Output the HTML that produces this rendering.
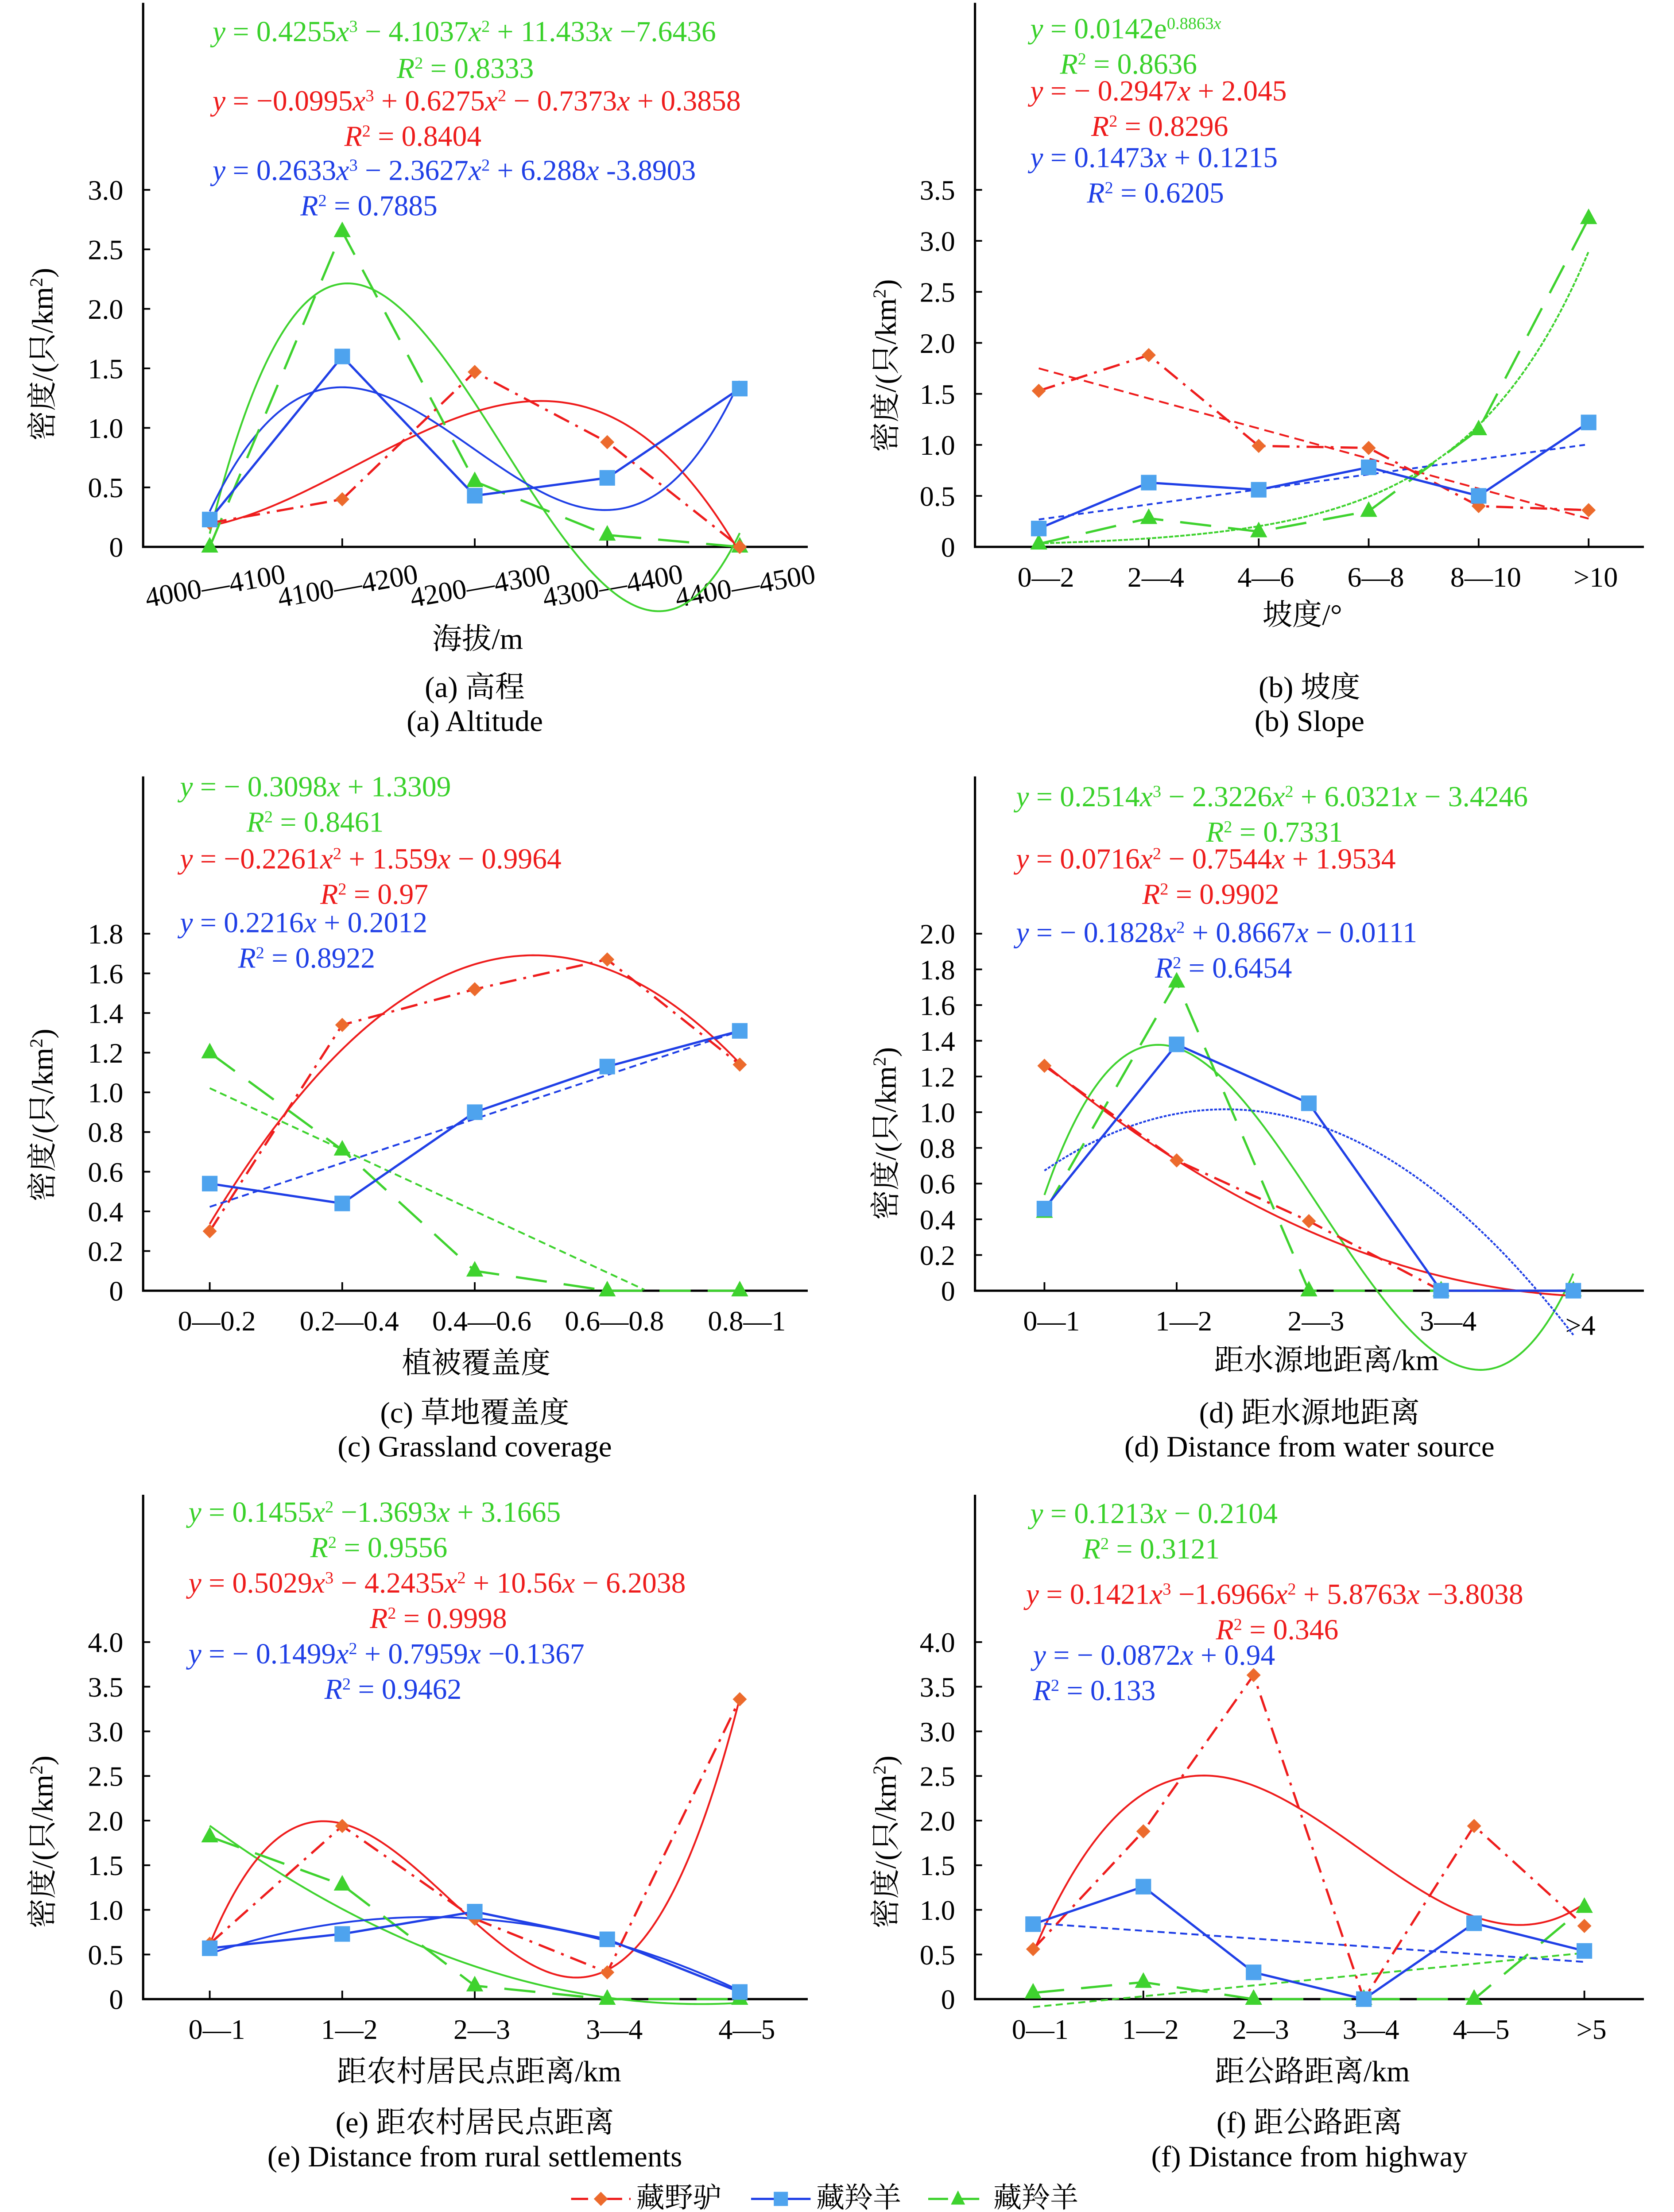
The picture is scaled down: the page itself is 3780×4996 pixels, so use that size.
<!DOCTYPE html>
<html><head><meta charset="utf-8">
<style>
html,body{margin:0;padding:0;background:#fff;}
svg{display:block;}
text{font-family:"Liberation Serif","Noto Serif CJK SC","Noto Sans CJK SC",serif;}
</style></head>
<body>
<svg id="fig" xmlns="http://www.w3.org/2000/svg" width="3780" height="4996" viewBox="0 0 1181.25 1561.25"></svg>
<script>
// ---- data ----
const aCats = ["4000—4100","4100—4200","4200—4300","4300—4400","4400—4500"];
const aDonkey = [0.2,0.4,1.47,0.88,0.0];
const aAntelope = [0.23,1.6,0.43,0.58,1.33];
const aGazelle = [0.0,2.65,0.55,0.1,0.0];
const aDonkeyFit = [-0.0995,0.6275,-0.7373,0.3858];
const aAntelopeFit = [0.2633,-2.3627,6.288,-3.8903];
const aGazelleFit = [0.4255,-4.1037,11.433,-7.6436];
const aTicks = ["0","0.5","1.0","1.5","2.0","2.5","3.0"];

const bCats = ["0—2","2—4","4—6","6—8","8—10",">10"];
const bDonkey = [1.53,1.88,0.99,0.97,0.4,0.36];
const bAntelope = [0.18,0.63,0.56,0.78,0.5,1.22];
const bGazelle = [0.03,0.28,0.15,0.35,1.15,3.22];
const bDonkeyFit = [-0.2947,2.045];
const bAntelopeFit = [0.1473,0.1215];
const bGazelleExp = [0.0142,0.8863];
const bTicks = ["0","0.5","1.0","1.5","2.0","2.5","3.0","3.5"];

const cCats = ["0—0.2","0.2—0.4","0.4—0.6","0.6—0.8","0.8—1"];
const cDonkey = [0.3,1.34,1.52,1.67,1.14];
const cAntelope = [0.54,0.44,0.9,1.13,1.31];
const cGazelle = [1.2,0.71,0.1,0,0];
const cDonkeyFit = [-0.2261,1.559,-0.9964];
const cAntelopeFit = [0.2216,0.2012];
const cGazelleFit = [-0.3098,1.3309];
const cTicks = ["0","0.2","0.4","0.6","0.8","1.0","1.2","1.4","1.6","1.8"];

const dCats = ["0—1","1—2","2—3","3—4",">4"];
const dDonkey = [1.26,0.73,0.39,0.0,0.0];
const dAntelope = [0.46,1.38,1.05,0.0,0.0];
const dGazelle = [0.44,1.73,0.0,0.0,0.0];
const dDonkeyFit = [0.0716,-0.7544,1.9534];
const dAntelopeFit = [-0.1828,0.8667,-0.0111];
const dGazelleFit = [0.2514,-2.3226,6.0321,-3.4246];
const dTicks = ["0","0.2","0.4","0.6","0.8","1.0","1.2","1.4","1.6","1.8","2.0"];

const eCats = ["0—1","1—2","2—3","3—4","4—5"];
const eDonkey = [0.62,1.94,0.9,0.3,3.36];
const eAntelope = [0.57,0.73,0.98,0.67,0.08];
const eGazelle = [1.82,1.28,0.15,0,0];
const eDonkeyFit = [0.5029,-4.2435,10.56,-6.2038];
const eAntelopeFit = [-0.1499,0.7959,-0.1367];
const eGazelleFit = [0.1455,-1.3693,3.1665];
const eTicks = ["0","0.5","1.0","1.5","2.0","2.5","3.0","3.5","4.0"];

const fCats = ["0—1","1—2","2—3","3—4","4—5",">5"];
const fDonkey = [0.56,1.88,3.63,0.0,1.94,0.82];
const fAntelope = [0.84,1.26,0.3,0.0,0.85,0.54];
const fGazelle = [0.07,0.19,0,0,0,1.03];
const fDonkeyFit = [0.1421,-1.6966,5.8763,-3.8038];
const fAntelopeFit = [-0.0872,0.94];
const fGazelleFit = [0.1213,-0.2104];
const fTicks = ["0","0.5","1.0","1.5","2.0","2.5","3.0","3.5","4.0"];

const RED="#ee1c1c", ORANGE="#ec6a2c", BLUE="#1f3fe6", LBLUE="#4ea3ee", GREEN="#3ed22e", GTXT="#39d12a";
const NS="http://www.w3.org/2000/svg";
const svg=document.getElementById('fig');
function mk(tag,attrs,parent){const e=document.createElementNS(NS,tag);for(const k in attrs)e.setAttribute(k,attrs[k]);(parent||svg).appendChild(e);return e;}
function txt(s,x,y,size,fill,anchor,parent){const t=mk('text',{x:x,y:y,'font-size':size,fill:fill||'#000','text-anchor':anchor||'middle'},parent);t.textContent=s;return t;}
function poly(c){return x=>c.reduce((a,v)=>a*x+v,0);}

function panel(id,cfg){
  const g=mk('g',{});
  
  
  const X=i=>cfg.x0+i*cfg.step;
  const Xc=x=>cfg.x0+(x-1)*cfg.step;
  const Y=v=>cfg.base-v*cfg.unit;
  const ax=mk('path',{d:`M${cfg.ax} ${cfg.top} V${cfg.base} H${cfg.axEnd}`,stroke:'#000','stroke-width':1.6,fill:'none'},g);
  
  
  cfg.ticks.forEach((t,i)=>{
    const v=i*cfg.tstep, y=Y(v);
    mk('line',{x1:cfg.ax,x2:cfg.ax+5,y1:y,y2:y,stroke:'#000','stroke-width':1.2},g);
    const tl=txt(t,cfg.ax-14,y+7,20,'#000','end',g);
    
    
  });
  cfg.cats.forEach((c,i)=>{
    const x=X(i);
    mk('line',{x1:x,x2:x,y1:cfg.base,y2:cfg.base-6,stroke:'#000','stroke-width':1.2},g);
    let t;
    if(cfg.rot){t=txt(c,x+5,cfg.base+34,20,'#000','middle',g);t.setAttribute('transform',`rotate(-10 ${x+5} ${cfg.base+34})`);}
    else {const dy=(c===">4")?31:28; t=txt(c,x+5,cfg.base+dy,20,'#000','middle',g);}
    
    
  });
  cfg.fits.forEach(f=>{
    const fn=f.exp?(x=>f.c[0]*Math.exp(f.c[1]*x)):poly(f.c);
    let d='';const n=cfg.cats.length;let started=false;
    for(let k=0;k<=200;k++){const x=1+(n-1)*k/200;const v=fn(x);
      if(f.clamp&&v<0)break;
      d+=(started?'L':'M')+Xc(x).toFixed(2)+' '+Y(v).toFixed(2);started=true;}
    const p=mk('path',{d:d,stroke:f.col,'stroke-width':1.3,fill:'none','stroke-dasharray':f.dash||'none'},g);
    
    
  });
  const series=[
    {v:cfg.gazelle,col:GREEN,dash:'22,12',m:'tri',name:'gazelle-line'},
    {v:cfg.donkey,col:RED,dash:'12,5,2,5',m:'dia',name:'donkey-line'},
    {v:cfg.antelope,col:BLUE,dash:'none',m:'sq',name:'antelope-line'}];
  series.forEach(s=>{
    const d=s.v.map((v,i)=>(i?'L':'M')+X(i)+' '+Y(v)).join('');
    const p=mk('path',{d:d,stroke:s.col,'stroke-width':1.6,fill:'none','stroke-dasharray':s.dash},g);
    
    
    s.v.forEach((v,i)=>{
      const x=X(i),y=Y(v);let m;
      if(s.m==='sq')m=mk('rect',{x:x-5.5,y:y-5.5,width:11,height:11,fill:LBLUE},g);
      else if(s.m==='dia')m=mk('path',{d:`M${x} ${y-5}L${x+5} ${y}L${x} ${y+5}L${x-5} ${y}Z`,fill:ORANGE},g);
      else m=mk('path',{d:`M${x} ${y-7}L${x+6} ${y+4}L${x-6} ${y+4}Z`,fill:GREEN},g);
      
      
    });
  });
  cfg.eqs.forEach(e=>{
    const t=mk('text',{x:e[1],y:e[2]+5,'font-size':20.5,fill:e[0],'text-anchor':'start'},g);
    t.innerHTML=e[3];
    
    
  });
  const yl=txt('',cfg.ylx,cfg.yly,21,'#000','middle',g);
  yl.innerHTML='密度/(只/km<tspan baseline-shift="super" font-size="13">2</tspan>)';
  yl.setAttribute('transform',`rotate(-90 ${cfg.ylx} ${cfg.yly})`);
  
  
  const xl=txt(cfg.xlabel,cfg.xlx,cfg.xly-5,21,'#000','middle',g);
  
  
  const t1=txt(cfg.title1,cfg.tx,cfg.ty-3,21,'#000','middle',g);
  
  
  const t2=txt(cfg.title2,cfg.tx,cfg.ty+21,21,'#000','middle',g);
  
  
}
const I=s=>`<tspan font-style="italic">${s}</tspan>`;
const SUP=s=>`<tspan baseline-shift="super" font-size="12">${s}</tspan>`;
const R2=v=>`${I('R')}${SUP('2')} = ${v}`;

panel('altitude',{ax:101,axEnd:570,top:2,base:386,unit:84,tstep:0.5,x0:148,step:93.5,rot:true,
  cats:aCats,ticks:aTicks,donkey:aDonkey,antelope:aAntelope,gazelle:aGazelle,
  fits:[{c:aGazelleFit,col:GREEN,name:'gazelle-trend'},{c:aDonkeyFit,col:RED,name:'donkey-trend'},{c:aAntelopeFit,col:BLUE,name:'antelope-trend'}],
  eqs:[[GTXT,150,24,`${I('y')} = 0.4255${I('x')}${SUP('3')} − 4.1037${I('x')}${SUP('2')} + 11.433${I('x')} −7.6436`],[GTXT,280,50,R2('0.8333')],
       [RED,150,73,`${I('y')} = −0.0995${I('x')}${SUP('3')} + 0.6275${I('x')}${SUP('2')} − 0.7373${I('x')} + 0.3858`],[RED,243,98,R2('0.8404')],
       [BLUE,150,122,`${I('y')} = 0.2633${I('x')}${SUP('3')} − 2.3627${I('x')}${SUP('2')} + 6.288${I('x')} -3.8903`],[BLUE,212,147,R2('0.7885')]],
  ylx:37,yly:250,xlabel:'海拔/m',xlx:337,xly:463,title1:'(a) 高程',title2:'(a) Altitude',tx:335,ty:495});

panel('slope',{ax:688,axEnd:1160,top:2,base:386,unit:72,tstep:0.5,x0:733,step:77.6,
  cats:bCats,ticks:bTicks,donkey:bDonkey,antelope:bAntelope,gazelle:bGazelle,
  fits:[{c:bGazelleExp,exp:true,col:GREEN,dash:'3,1',name:'gazelle-trend'},{c:bDonkeyFit,col:RED,dash:'7,4',name:'donkey-trend'},{c:bAntelopeFit,col:BLUE,dash:'4,3',name:'antelope-trend'}],
  eqs:[[GTXT,727,22,`${I('y')} = 0.0142e${SUP('0.8863'+'<tspan font-style="italic">x</tspan>')}`],[GTXT,748,47,R2('0.8636')],
       [RED,727,66,`${I('y')} = − 0.2947${I('x')} + 2.045`],[RED,770,91,R2('0.8296')],
       [BLUE,727,113,`${I('y')} = 0.1473${I('x')} + 0.1215`],[BLUE,767,138,R2('0.6205')]],
  ylx:632,yly:258,xlabel:'坡度/°',xlx:919,xly:446,title1:'(b) 坡度',title2:'(b) Slope',tx:924,ty:495});

panel('grassland',{ax:101,axEnd:570,top:548,base:911,unit:140,tstep:0.2,x0:148,step:93.5,
  cats:cCats,ticks:cTicks,donkey:cDonkey,antelope:cAntelope,gazelle:cGazelle,
  fits:[{c:cGazelleFit,col:GREEN,dash:'5,3',clamp:true,name:'gazelle-trend'},{c:cDonkeyFit,col:RED,name:'donkey-trend'},{c:cAntelopeFit,col:BLUE,dash:'5,3',name:'antelope-trend'}],
  eqs:[[GTXT,127,557,`${I('y')} = − 0.3098${I('x')} + 1.3309`],[GTXT,174,582,R2('0.8461')],
       [RED,127,608,`${I('y')} = −0.2261${I('x')}${SUP('2')} + 1.559${I('x')} − 0.9964`],[RED,226,633,R2('0.97')],
       [BLUE,127,653,`${I('y')} = 0.2216${I('x')} + 0.2012`],[BLUE,168,678,R2('0.8922')]],
  ylx:37,yly:787,xlabel:'植被覆盖度',xlx:336,xly:974,title1:'(c) 草地覆盖度',title2:'(c) Grassland coverage',tx:335,ty:1007});

panel('water',{ax:688,axEnd:1160,top:548,base:911,unit:126,tstep:0.2,x0:737,step:93.3,
  cats:dCats,ticks:dTicks,donkey:dDonkey,antelope:dAntelope,gazelle:dGazelle,
  fits:[{c:dGazelleFit,col:GREEN,name:'gazelle-trend'},{c:dDonkeyFit,col:RED,name:'donkey-trend'},{c:dAntelopeFit,col:BLUE,dash:'2,1',name:'antelope-trend'}],
  eqs:[[GTXT,717,564,`${I('y')} = 0.2514${I('x')}${SUP('3')} − 2.3226${I('x')}${SUP('2')} + 6.0321${I('x')} − 3.4246`],[GTXT,851,589,R2('0.7331')],
       [RED,717,608,`${I('y')} = 0.0716${I('x')}${SUP('2')} − 0.7544${I('x')} + 1.9534`],[RED,806,633,R2('0.9902')],
       [BLUE,717,660,`${I('y')} = − 0.1828${I('x')}${SUP('2')} + 0.8667${I('x')} − 0.0111`],[BLUE,815,685,R2('0.6454')]],
  ylx:632,yly:800,xlabel:'距水源地距离/km',xlx:936,xly:972,title1:'(d) 距水源地距离',title2:'(d) Distance from water source',tx:924,ty:1007});

panel('settlement',{ax:101,axEnd:570,top:1055,base:1411,unit:63,tstep:0.5,x0:148,step:93.5,
  cats:eCats,ticks:eTicks,donkey:eDonkey,antelope:eAntelope,gazelle:eGazelle,
  fits:[{c:eGazelleFit,col:GREEN,name:'gazelle-trend'},{c:eDonkeyFit,col:RED,name:'donkey-trend'},{c:eAntelopeFit,col:BLUE,name:'antelope-trend'}],
  eqs:[[GTXT,133,1069,`${I('y')} = 0.1455${I('x')}${SUP('2')} −1.3693${I('x')} + 3.1665`],[GTXT,219,1094,R2('0.9556')],
       [RED,133,1119,`${I('y')} = 0.5029${I('x')}${SUP('3')} − 4.2435${I('x')}${SUP('2')} + 10.56${I('x')} − 6.2038`],[RED,261,1144,R2('0.9998')],
       [BLUE,133,1169,`${I('y')} = − 0.1499${I('x')}${SUP('2')} + 0.7959${I('x')} −0.1367`],[BLUE,229,1194,R2('0.9462')]],
  ylx:37,yly:1300,xlabel:'距农村居民点距离/km',xlx:338,xly:1474,title1:'(e) 距农村居民点距离',title2:'(e) Distance from rural settlements',tx:335,ty:1508});

panel('highway',{ax:688,axEnd:1160,top:1055,base:1411,unit:63,tstep:0.5,x0:729,step:77.8,
  cats:fCats,ticks:fTicks,donkey:fDonkey,antelope:fAntelope,gazelle:fGazelle,
  fits:[{c:fGazelleFit,col:GREEN,dash:'5,3',name:'gazelle-trend'},{c:fDonkeyFit,col:RED,name:'donkey-trend'},{c:fAntelopeFit,col:BLUE,dash:'5,3',name:'antelope-trend'}],
  eqs:[[GTXT,727,1070,`${I('y')} = 0.1213${I('x')} − 0.2104`],[GTXT,764,1095,R2('0.3121')],
       [RED,724,1127,`${I('y')} = 0.1421${I('x')}${SUP('3')} −1.6966${I('x')}${SUP('2')} + 5.8763${I('x')} −3.8038`],[RED,858,1152,R2('0.346')],
       [BLUE,729,1170,`${I('y')} = − 0.0872${I('x')} + 0.94`],[BLUE,729,1195,R2('0.133')]],
  ylx:632,yly:1300,xlabel:'距公路距离/km',xlx:926,xly:1474,title1:'(f) 距公路距离',title2:'(f) Distance from highway',tx:924,ty:1508});

const lg=mk('g',{});


[[403,RED,'12,5,2,5','dia','藏野驴','legend-entry-donkey'],[530,BLUE,'none','sq','藏羚羊','legend-entry-antelope'],[655,GREEN,'14,8','tri','藏羚羊','legend-entry-gazelle']].forEach(L=>{
  const e=mk('g',{},lg);
  
  
  const x=L[0],y=1552;
  mk('line',{x1:x,x2:x+42,y1:y,y2:y,stroke:L[1],'stroke-width':1.6,'stroke-dasharray':L[2]},e);
  const cx=x+21;
  if(L[3]==='sq')mk('rect',{x:cx-5,y:y-5,width:10,height:10,fill:LBLUE},e);
  else if(L[3]==='dia')mk('path',{d:`M${cx} ${y-5}L${cx+5} ${y}L${cx} ${y+5}L${cx-5} ${y}Z`,fill:ORANGE},e);
  else mk('path',{d:`M${cx} ${y-6}L${cx+5} ${y+4}L${cx-5} ${y+4}Z`,fill:GREEN},e);
  txt(L[4],x+46,y+6,20,'#000','start',e);
});
</script>
</body></html>
